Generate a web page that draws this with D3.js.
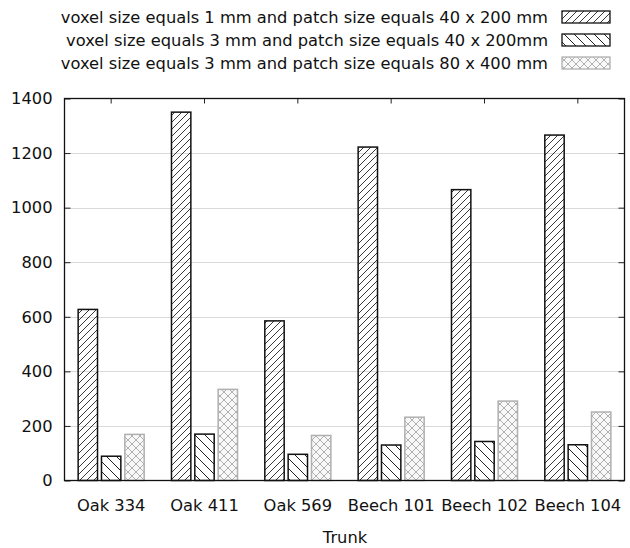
<!DOCTYPE html>
<html>
<head>
<meta charset="utf-8">
<script src="https://cdn.jsdelivr.net/npm/d3@7"></script>
<style>
  html, body { margin: 0; padding: 0; background: #fff; }
  svg { display: block; font-family: Tahoma, "DejaVu Sans", Verdana, sans-serif; }
</style>
</head>
<body>
<svg id="chart" width="630" height="548"></svg>
<script>
// ── data ─────────────────────────────────────────────────────────────────────
const trunks = ["Oak 334", "Oak 411", "Oak 569", "Beech 101", "Beech 102", "Beech 104"];
const seriesNames = [
  "voxel size equals 1 mm and patch size equals 40 x 200 mm",
  "voxel size equals 3 mm and patch size equals 40 x 200mm",
  "voxel size equals 3 mm and patch size equals 80 x 400 mm",
];
const vox1_40x200 = [627, 1350, 585, 1222, 1066, 1266];
const vox3_40x200 = [89, 170, 96, 130, 143, 131];
const vox3_80x400 = [169, 334, 165, 232, 291, 251];
const yTicks = [0, 200, 400, 600, 800, 1000, 1200, 1400];

const series = [vox1_40x200, vox3_40x200, vox3_80x400];

// ── layout ───────────────────────────────────────────────────────────────────
const plot = { left: 64.5, right: 624.5, top: 98.5, bottom: 480.5 };
const FONT = 16.3;

const svg = d3.select("#chart");

// hatch patterns (gnuplot-ish)
const defs = svg.append("defs");
const p1 = defs.append("pattern").attr("id", "hatch1")
  .attr("patternUnits", "userSpaceOnUse").attr("width", 7).attr("height", 7);
p1.append("path").attr("d", "M-1,8 L8,-1 M-1,1 L1,-1 M6,8 L8,6")
  .attr("stroke", "#222").attr("stroke-width", 0.9);

const p2 = defs.append("pattern").attr("id", "hatch2")
  .attr("patternUnits", "userSpaceOnUse").attr("width", 10).attr("height", 10);
p2.append("path").attr("d", "M-1,-1 L11,11 M-1,9 L1,11 M9,-1 L11,1")
  .attr("stroke", "#222").attr("stroke-width", 1);

const p3 = defs.append("pattern").attr("id", "hatch3")
  .attr("patternUnits", "userSpaceOnUse").attr("width", 8).attr("height", 8);
p3.append("rect").attr("width", 8).attr("height", 8).attr("fill", "#f8f8f8");
p3.append("path").attr("d", "M0,0 L8,8 M8,0 L0,8")
  .attr("stroke", "#b0b0b0").attr("stroke-width", 1);

const fills = ["url(#hatch1)", "url(#hatch2)", "url(#hatch3)"];
const strokes = ["#111", "#111", "#b0b0b0"];

// scales
const x = d3.scaleBand().domain(trunks)
  .range([plot.left, plot.right]).paddingInner(0).paddingOuter(0);
const slot = x.bandwidth() / 4;           // 3 bars + 1 gap
const barW = slot * 0.83;

const y = d3.scaleLinear().domain([0, 1400]).range([plot.bottom, plot.top]);

// grid
svg.append("g").selectAll("line")
  .data(yTicks.filter(t => t > 0 && t < 1400)).enter().append("line")
  .attr("x1", plot.left).attr("x2", plot.right)
  .attr("y1", d => Math.round(y(d)) + 0.5).attr("y2", d => Math.round(y(d)) + 0.5)
  .attr("stroke", "#d9d9d9").attr("stroke-width", 1);

// bars
series.forEach((vals, si) => {
  svg.append("g").selectAll("rect")
    .data(vals).enter().append("rect")
    .attr("x", (d, i) => x(trunks[i]) + x.bandwidth() / 2 + (si - 1) * slot - barW / 2)
    .attr("y", d => y(d))
    .attr("width", barW)
    .attr("height", d => y(0) - y(d))
    .attr("fill", fills[si])
    .attr("stroke", strokes[si])
    .attr("stroke-width", 1.5);
});

// axes
const yAxis = d3.axisLeft(y).tickValues(yTicks).tickSize(-6).tickPadding(12)
  .tickFormat(d3.format("d"));
const gy = svg.append("g").attr("transform", `translate(${plot.left},0)`).call(yAxis);
gy.select(".domain").remove();
gy.selectAll("line").attr("stroke", "#222");
gy.selectAll("text").attr("font-size", FONT).attr("fill", "#111")
  .attr("font-family", "Tahoma, 'DejaVu Sans', sans-serif");

// mirrored y ticks on right
const gyr = svg.append("g").attr("transform", `translate(${plot.right},0)`)
  .call(d3.axisRight(y).tickValues(yTicks).tickSize(-6).tickFormat(""));
gyr.select(".domain").remove();
gyr.selectAll("line").attr("stroke", "#222");

const xAxis = d3.axisBottom(x).tickSize(0).tickPadding(19);
const gx = svg.append("g").attr("transform", `translate(0,${plot.bottom})`).call(xAxis);
gx.select(".domain").remove();
gx.selectAll("text").attr("font-size", FONT).attr("fill", "#111")
  .attr("font-family", "Tahoma, 'DejaVu Sans', sans-serif");

// top ticks (gnuplot mirror)
const gxt = svg.append("g").attr("transform", `translate(0,${plot.top})`)
  .call(d3.axisTop(x).tickSize(-5).tickFormat(""));
gxt.select(".domain").remove();
gxt.selectAll("line").attr("stroke", "#222");

// frame
svg.append("rect")
  .attr("x", plot.left).attr("y", plot.top)
  .attr("width", plot.right - plot.left).attr("height", plot.bottom - plot.top)
  .attr("fill", "none").attr("stroke", "#111").attr("stroke-width", 1.3);

// x title
svg.append("text").attr("x", 345).attr("y", 542.5)
  .attr("text-anchor", "middle").attr("font-size", FONT).attr("fill", "#111")
  .text("Trunk");

// legend
const legRows = [17, 40, 63];
const leg = svg.append("g");
seriesNames.forEach((name, i) => {
  leg.append("text")
    .attr("x", 548).attr("y", legRows[i]).attr("dy", "0.36em")
    .attr("text-anchor", "end").attr("font-size", FONT).attr("fill", "#111")
    .text(name);
  leg.append("rect")
    .attr("x", 562).attr("y", legRows[i] - 6)
    .attr("width", 48).attr("height", 12)
    .attr("fill", fills[i]).attr("stroke", strokes[i]).attr("stroke-width", 1.3);
});
</script>
</body>
</html>
